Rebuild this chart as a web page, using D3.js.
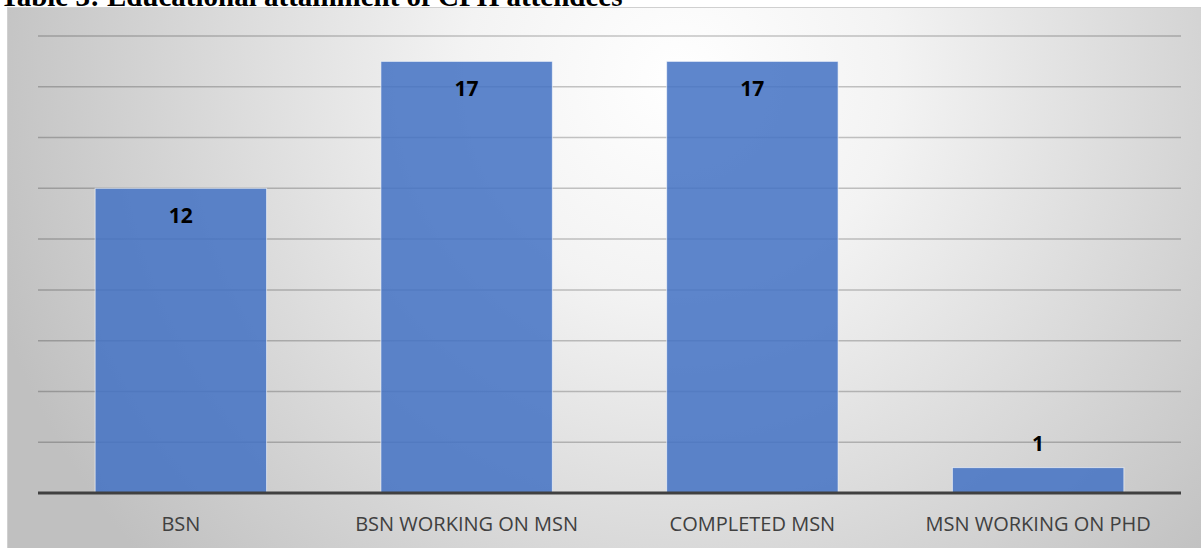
<!DOCTYPE html>
<html>
<head>
<meta charset="utf-8">
<script src="https://cdn.jsdelivr.net/npm/d3@7"></script>
<style>
  body { margin: 0; background: #fff; }
  svg { display: block; }
</style>
</head>
<body>
<svg id="Target" width="1201" height="548"></svg>
<script>
// data
var categories = ["BSN", "BSN WORKING ON MSN", "COMPLETED MSN", "MSN WORKING ON PHD"];
var counts = [12, 17, 17, 1];
var yTicks = [0, 2, 4, 6, 8, 10, 12, 14, 16, 18];
var title = "Table 3: Educational attainment of CPH attendees";

var svg = d3.select("#Target");
var width = 1201, height = 548;
var margin = { left: 38, right: 20, top: 36, bottom: 55 };

// background gradient of the chart area
var defs = svg.append("defs");
var grad = defs.append("radialGradient")
    .attr("id", "bg")
    .attr("gradientUnits", "userSpaceOnUse")
    .attr("cx", 680).attr("cy", 80).attr("r", 720)
    .attr("fx", 680).attr("fy", 80);
grad.append("stop").attr("offset", "0%").attr("stop-color", "#ffffff");
grad.append("stop").attr("offset", "30%").attr("stop-color", "#f3f3f3");
grad.append("stop").attr("offset", "100%").attr("stop-color", "#c0c0c0");

// clipped title above the chart
svg.append("text")
    .attr("x", 0).attr("y", 6)
    .attr("font-family", "Liberation Serif, Times New Roman, serif")
    .attr("font-weight", "bold")
    .attr("font-size", 29)
    .attr("fill", "#000")
    .text(title);

svg.append("rect")
    .attr("x", 0).attr("y", 7).attr("width", width).attr("height", height - 7)
    .attr("fill", "#fff");
svg.append("rect")
    .attr("x", 7.5).attr("y", 7.5)
    .attr("width", width).attr("height", height)
    .attr("fill", "url(#bg)")
    .attr("stroke", "#d0d0d0")
    .attr("stroke-width", 1);

var x = d3.scaleBand()
    .domain(categories)
    .range([margin.left, width - margin.right])
    .paddingInner(0.4)
    .paddingOuter(0.2);

var y = d3.scaleLinear()
    .domain([0, 18])
    .range([height - margin.bottom, margin.top]);

// gridlines
svg.append("g")
    .selectAll("line")
    .data(yTicks.filter(function (d) { return d > 0; }))
    .enter()
    .append("line")
    .attr("x1", margin.left)
    .attr("x2", width - margin.right)
    .attr("y1", function (d) { return y(d); })
    .attr("y2", function (d) { return y(d); })
    .attr("stroke", "rgba(0,0,0,0.22)")
    .attr("stroke-width", 1.5);

// bars
svg.append("g")
    .selectAll("rect")
    .data(counts)
    .enter()
    .append("rect")
    .attr("x", function (d, i) { return x(categories[i]); })
    .attr("y", function (d) { return y(d); })
    .attr("width", x.bandwidth())
    .attr("height", function (d) { return y(0) - y(d); })
    .attr("fill", "#4472c4")
    .attr("fill-opacity", 0.86)
    .attr("stroke", "rgba(255,255,255,0.6)")
    .attr("stroke-width", 1);

// value labels: inside the top of tall bars, above short ones
svg.append("g")
    .selectAll("text")
    .data(counts)
    .enter()
    .append("text")
    .attr("x", function (d, i) { return x(categories[i]) + x.bandwidth() / 2; })
    .attr("y", function (d) {
        return (y(0) - y(d)) > 40 ? y(d) + 35 : y(d) - 17;
    })
    .attr("text-anchor", "middle")
    .attr("font-family", "Open Sans, Noto Sans, sans-serif")
    .attr("font-weight", "bold")
    .attr("font-size", 21)
    .attr("fill", "#000")
    .text(function (d) { return d; });

// baseline
svg.append("line")
    .attr("x1", margin.left)
    .attr("x2", width - margin.right)
    .attr("y1", y(0))
    .attr("y2", y(0))
    .attr("stroke", "#404040")
    .attr("stroke-width", 3);

// category labels
svg.append("g")
    .selectAll("text")
    .data(categories)
    .enter()
    .append("text")
    .attr("x", function (d) { return x(d) + x.bandwidth() / 2; })
    .attr("y", y(0) + 38)
    .attr("text-anchor", "middle")
    .attr("font-family", "Open Sans, Noto Sans, sans-serif")
    .attr("font-size", 20)
    .attr("fill", "#404040")
    .text(function (d) { return d; });
</script>
</body>
</html>
